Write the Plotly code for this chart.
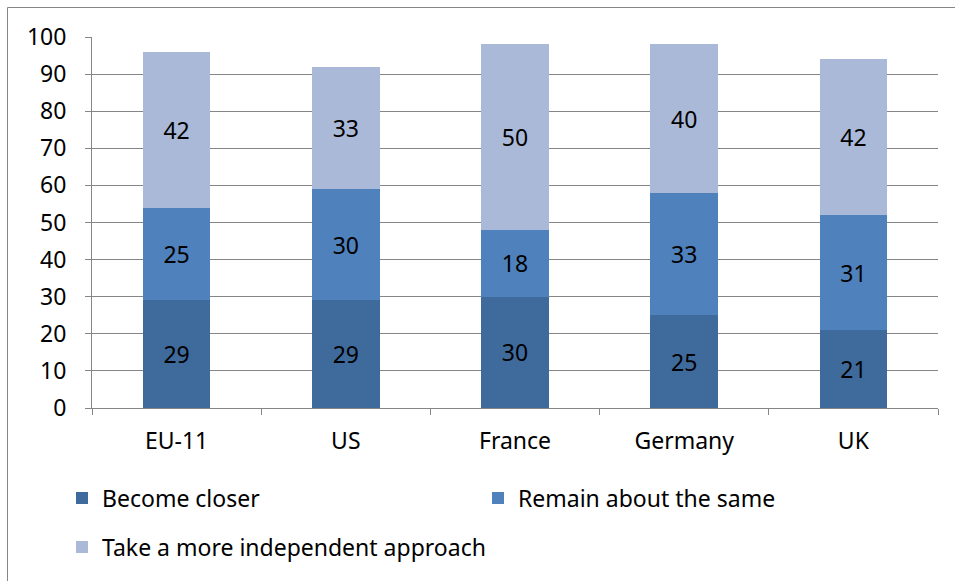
import plotly.graph_objects as go

categories = ["EU-11", "US", "France", "Germany", "UK"]
become_closer = [29, 29, 30, 25, 21]
remain_same = [25, 30, 18, 33, 31]
independent = [42, 33, 50, 40, 42]
y_ticks = list(range(0, 101, 10))

W, H = 955, 581
ml, mr, mt, mb = 92, 17, 37, 173
pw, ph = W - ml - mr, H - mt - mb

FONT = "Noto Sans, sans-serif"
FS = 23
series = [
    ("Become closer", become_closer, "#3F6A9C", "legend"),
    ("Remain about the same", remain_same, "#4F81BD", "legend"),
    ("Take a more independent approach", independent, "#AAB9D8", "legend2"),
]

fig = go.Figure()
for name, vals, col, lg in series:
    fig.add_trace(go.Bar(
        x=categories, y=vals, name=name, marker=dict(color=col, line=dict(width=0)),
        text=vals, textposition="inside", insidetextanchor="middle", textangle=0,
        textfont=dict(color="black", size=FS, family=FONT), legend=lg,
    ))

def px_x(x):
    return (x - ml) / pw

def px_y(y):
    return (H - mb - y) / ph

fig.update_layout(
    width=W, height=H, barmode="stack", bargap=0.6,
    margin=dict(l=ml, r=mr, t=mt, b=mb, autoexpand=False),
    paper_bgcolor="white", plot_bgcolor="white",
    font=dict(family=FONT, size=FS, color="black"),
    uniformtext=dict(minsize=FS, mode="show"),
    xaxis=dict(showline=True, linecolor="#868686", linewidth=1, ticks="outside",
               tickson="boundaries", ticklen=6, tickcolor="#868686",
               ticklabelstandoff=12, showgrid=False, tickfont=dict(size=FS)),
    yaxis=dict(range=[0, 100], tickvals=y_ticks, showline=True, linecolor="#868686",
               linewidth=1, ticks="outside", ticklen=6, tickcolor="#868686",
               showgrid=True, gridcolor="#868686", gridwidth=1, zeroline=False,
               ticklabelstandoff=14, tickfont=dict(size=FS)),
    legend=dict(orientation="h", x=px_x(62), y=px_y(498), yanchor="middle", xanchor="left",
                entrywidth=371, traceorder="normal", font=dict(size=FS),
                bgcolor="rgba(0,0,0,0)"),
    legend2=dict(orientation="h", x=px_x(62), y=px_y(547), yanchor="middle", xanchor="left",
                 font=dict(size=FS), bgcolor="rgba(0,0,0,0)"),
    shapes=[dict(type="rect", xref="paper", yref="paper",
                 x0=px_x(7.5), x1=px_x(965), y0=px_y(590), y1=px_y(7.5),
                 line=dict(color="#868686", width=1), layer="below")],
)

fig.write_html("out.html")
